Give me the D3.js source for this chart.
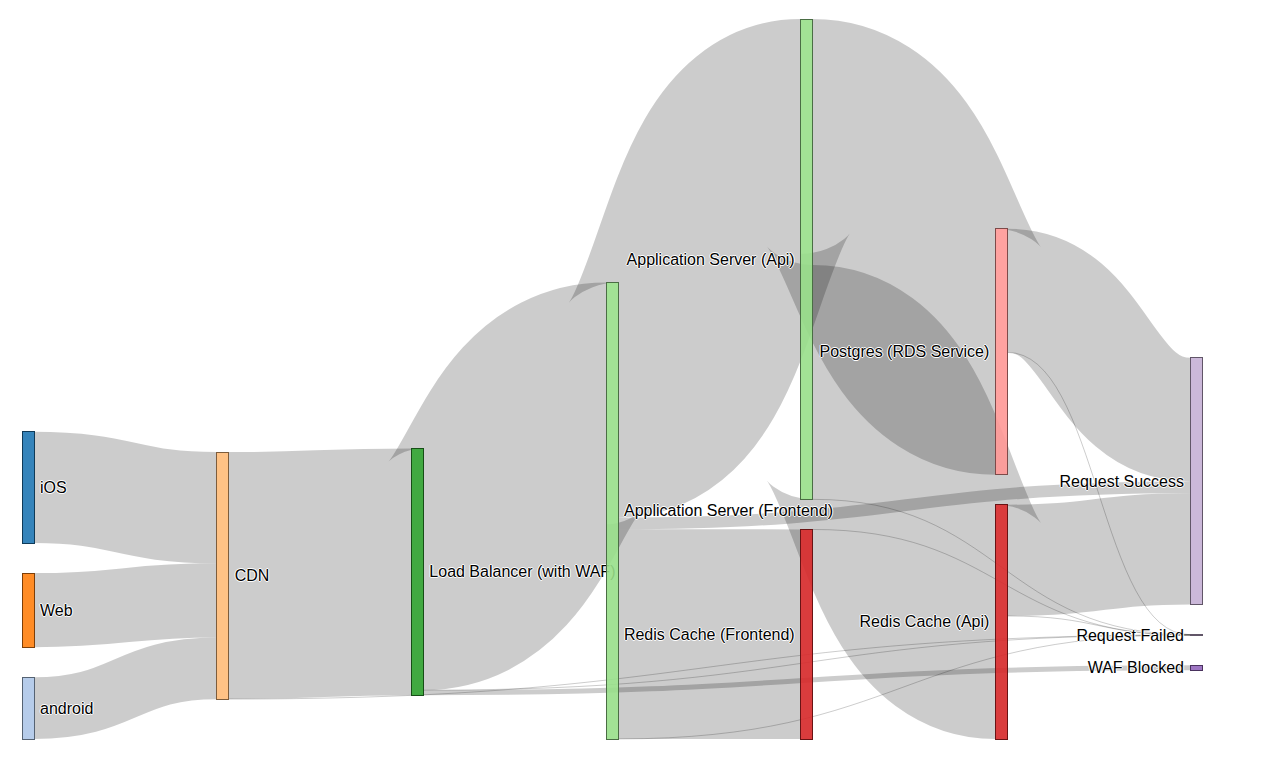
<!DOCTYPE html>
<html>
<head>
<meta charset="utf-8">
<style>
  body { margin: 0; background: #fff; }
  svg { display: block; font: 16px "Liberation Sans", Arial, sans-serif; }
  .node rect { fill-opacity: .9; shape-rendering: crispEdges; }
  .node text { pointer-events: none; text-shadow: 0 1px 0 #fff, 1px 0 0 #fff, 0 -1px 0 #fff, -1px 0 0 #fff; }
  .link { fill: none; stroke: #000; stroke-opacity: .2; }
</style>
</head>
<body>
<svg id="chart" width="1278" height="771"></svg>
<script src="https://cdnjs.cloudflare.com/ajax/libs/d3/7.8.5/d3.min.js"></script>
<script>
// Request flow through the stack

const nodeNames = [
    "iOS",
    "android",
    "Web",
    "CDN",
    "Load Balancer (with WAF)",
    "Application Server (Frontend)",
    "Application Server (Api)",
    "Redis Cache (Frontend)",
    "Postgres (RDS Service)",
    "Redis Cache (Api)",
    "Request Success",
    "Request Failed",
    "WAF Blocked"
];

// [source, target, requests]
const flows = [
    ["iOS", "CDN", 4500],
    ["Web", "CDN", 3000],
    ["android", "CDN", 2500],
    ["CDN", "Load Balancer (with WAF)", 9990],
    ["CDN", "Request Failed", 5],
    ["Load Balancer (with WAF)", "Application Server (Frontend)", 9780],
    ["Load Balancer (with WAF)", "WAF Blocked", 200],
    ["Load Balancer (with WAF)", "Request Failed", 5],
    ["Application Server (Frontend)", "Application Server (Api)", 9500],
    ["Application Server (Frontend)", "Request Success", 480],
    ["Application Server (Frontend)", "Redis Cache (Frontend)", 8480],
    ["Application Server (Frontend)", "Request Failed", 5],
    ["Application Server (Api)", "Postgres (RDS Service)", 9950],
    ["Application Server (Api)", "Redis Cache (Api)", 9480],
    ["Application Server (Api)", "Request Failed", 5],
    ["Redis Cache (Frontend)", "Request Failed", 5],
    ["Postgres (RDS Service)", "Request Success", 5000],
    ["Postgres (RDS Service)", "Request Failed", 5],
    ["Redis Cache (Api)", "Request Success", 4500],
    ["Redis Cache (Api)", "Request Failed", 5]
];

// colour by first word of the node name
const colorKeys = ["iOS", "android", "Web", "CDN", "Load", "Application", "Redis", "Postgres", "WAF", "Request"];
const colorRange = ["#1f77b4", "#aec7e8", "#ff7f0e", "#ffbb78", "#2ca02c", "#98df8a", "#d62728", "#ff9896", "#9467bd", "#c5b0d5"];

const margin = { top: 19, right: 76, bottom: 32, left: 22 };
const width = 1278 - margin.left - margin.right;
const height = 771 - margin.top - margin.bottom;
const nodeWidth = 12;
const nodePadding = 30;

const color = d3.scaleOrdinal().domain(colorKeys).range(colorRange);

const svg = d3.select("#chart")
    .append("g")
    .attr("transform", "translate(" + margin.left + "," + margin.top + ")");

const nodes = nodeNames.map(name => ({ name: name }));
const byName = new Map(nodes.map(n => [n.name, n]));
const links = flows.map(f => ({ source: byName.get(f[0]), target: byName.get(f[1]), value: f[2] }));

layout(12);

const link = svg.append("g").selectAll(".link")
    .data(links)
    .enter().append("path")
    .attr("class", "link")
    .attr("d", linkPath)
    .style("stroke-width", d => Math.max(1, d.dy))
    .sort((a, b) => b.dy - a.dy);

const node = svg.append("g").selectAll(".node")
    .data(nodes)
    .enter().append("g")
    .attr("class", "node")
    .attr("transform", d => "translate(" + d.x + "," + d.y + ")");

node.append("rect")
    .attr("height", d => d.dy)
    .attr("width", nodeWidth)
    .style("fill", d => d.color = color(d.name.replace(/ .*/, "")))
    .style("stroke", d => d3.rgb(d.color).darker(2));

node.append("text")
    .attr("x", -6)
    .attr("y", d => d.dy / 2)
    .attr("dy", ".35em")
    .attr("text-anchor", "end")
    .text(d => d.name)
    .filter(d => d.x < width / 2)
    .attr("x", 6 + nodeWidth)
    .attr("text-anchor", "start");

function linkPath(d) {
    const x0 = d.source.x + d.source.dx,
        x1 = d.target.x,
        xi = d3.interpolateNumber(x0, x1),
        x2 = xi(0.5),
        x3 = xi(0.5),
        y0 = d.source.y + d.sy + d.dy / 2,
        y1 = d.target.y + d.ty + d.dy / 2;
    return "M" + x0 + "," + y0 + "C" + x2 + "," + y0 + " " + x3 + "," + y1 + " " + x1 + "," + y1;
}

function layout(iterations) {
    const value = l => l.value;
    const center = n => n.y + n.dy / 2;

    nodes.forEach(n => { n.sourceLinks = []; n.targetLinks = []; });
    links.forEach(l => { l.source.sourceLinks.push(l); l.target.targetLinks.push(l); });
    nodes.forEach(n => {
        n.value = Math.max(d3.sum(n.sourceLinks, value), d3.sum(n.targetLinks, value));
    });

    // columns
    let remaining = nodes, x = 0;
    while (remaining.length) {
        const next = [];
        remaining.forEach(n => {
            n.x = x;
            n.dx = nodeWidth;
            n.sourceLinks.forEach(l => { if (next.indexOf(l.target) < 0) next.push(l.target); });
        });
        remaining = next;
        ++x;
    }
    nodes.forEach(n => { if (!n.sourceLinks.length) n.x = x - 1; });
    const kx = (width - nodeWidth) / (x - 1);
    nodes.forEach(n => { n.x *= kx; });

    // group by column (keys compared as strings, like d3.nest)
    const nodesByBreadth = d3.groups(nodes, n => String(n.x))
        .sort((a, b) => d3.ascending(a[0], b[0]))
        .map(g => g[1]);

    const ky = d3.min(nodesByBreadth, col => (height - (col.length - 1) * nodePadding) / d3.sum(col, n => n.value));
    nodesByBreadth.forEach(col => col.forEach((n, i) => { n.y = i; n.dy = n.value * ky; }));
    links.forEach(l => { l.dy = l.value * ky; });

    resolveCollisions();
    for (let alpha = 1; iterations > 0; --iterations) {
        relaxRightToLeft(alpha *= .99);
        resolveCollisions();
        relaxLeftToRight(alpha);
        resolveCollisions();
    }

    function relaxLeftToRight(alpha) {
        nodesByBreadth.forEach(col => col.forEach(n => {
            if (n.targetLinks.length) {
                const y = d3.sum(n.targetLinks, l => center(l.source) * l.value) / d3.sum(n.targetLinks, value);
                n.y += (y - center(n)) * alpha;
            }
        }));
    }

    function relaxRightToLeft(alpha) {
        nodesByBreadth.slice().reverse().forEach(col => col.forEach(n => {
            if (n.sourceLinks.length) {
                const y = d3.sum(n.sourceLinks, l => center(l.target) * l.value) / d3.sum(n.sourceLinks, value);
                n.y += (y - center(n)) * alpha;
            }
        }));
    }

    function resolveCollisions() {
        nodesByBreadth.forEach(col => {
            let n, dy, y0 = 0, i;
            const len = col.length;
            col.sort((a, b) => a.y - b.y);
            for (i = 0; i < len; ++i) {
                n = col[i];
                dy = y0 - n.y;
                if (dy > 0) n.y += dy;
                y0 = n.y + n.dy + nodePadding;
            }
            dy = y0 - nodePadding - height;
            if (dy > 0) {
                y0 = n.y -= dy;
                for (i = len - 2; i >= 0; --i) {
                    n = col[i];
                    dy = n.y + n.dy + nodePadding - y0;
                    if (dy > 0) n.y -= dy;
                    y0 = n.y;
                }
            }
        });
    }

    // link offsets within nodes
    nodes.forEach(n => {
        n.sourceLinks.sort((a, b) => a.target.y - b.target.y);
        n.targetLinks.sort((a, b) => a.source.y - b.source.y);
    });
    nodes.forEach(n => {
        let sy = 0, ty = 0;
        n.sourceLinks.forEach(l => { l.sy = sy; sy += l.dy; });
        n.targetLinks.forEach(l => { l.ty = ty; ty += l.dy; });
    });
}
</script>
</body>
</html>
